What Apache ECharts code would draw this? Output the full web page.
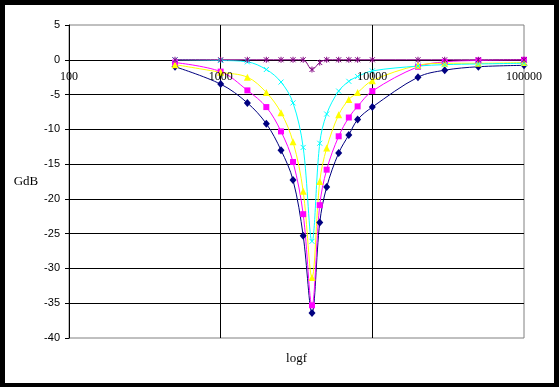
<!DOCTYPE html>
<html><head><meta charset="utf-8">
<script src="https://cdn.jsdelivr.net/npm/echarts@6/dist/echarts.min.js"></script>
<style>html,body{margin:0;padding:0;background:#000}#c{width:559px;height:387px}</style>
</head><body><div id="c"></div>
<script>
// Frequencies (Hz) of the measured points
const freqs = [500, 1000, 1500, 2000, 2500, 3000, 3500, 4000, 4500, 5000, 6000, 7000, 8000, 10000, 20000, 30000, 50000, 100000];
// Gain in dB for each series
const gNavy    = [-1.0, -3.5, -6.2, -9.2, -13.0, -17.3, -25.3, -36.4, -23.4, -18.3, -13.4, -10.8, -8.6, -6.8, -2.5, -1.5, -1.0, -0.8];
const gMagenta = [-0.4, -1.7, -4.4, -6.8, -10.3, -14.7, -22.2, -35.3, -20.9, -15.8, -11.0, -8.3, -6.7, -4.5, -1.0, -0.3, -0.1, 0];
const gYellow  = [-0.7, -1.8, -2.5, -4.7, -7.6, -11.8, -18.9, -31.3, -17.5, -12.7, -7.9, -5.7, -4.7, -3.0, -0.8, -0.5, -0.5, -0.4];
const gCyan    = [0, -0.1, -0.3, -1.4, -3.2, -6.2, -12.6, -26.1, -12.0, -7.8, -4.5, -3.1, -2.4, -1.6, -0.9, -0.7, -0.6, -0.5];
const gPurple  = [0, 0, 0, 0, 0, 0, 0, -1.4, -0.4, 0, 0, 0, 0, 0, 0, 0, 0, 0];

const xMin = 100, xMax = 100000;
const yMin = -40, yMax = 5, yStep = 5;

const W = 559, H = 387;
const G = { left: 69, right: 35, top: 25, bottom: 49 };
// x axis crosses the y axis at 0 dB: shift the label axis up from the plot bottom to the 0 line
const plotH = H - G.top - G.bottom;
const zeroOffset = -plotH * (0 - yMin) / (yMax - yMin);

function pts(vals) { return freqs.map((f, i) => [f, vals[i]]); }

const X_SYM = 'path://M0,0L10,10M10,0L0,10';
const STAR_SYM = 'path://M0,0L10,10M10,0L0,10M5,-1L5,11';

function mkSeries(vals, color, symbol, size, stroke) {
  return {
    type: 'line',
    data: pts(vals),
    smooth: 0.35,
    symbol: symbol,
    symbolSize: size,
    symbolKeepAspect: true,
    showAllSymbol: true,
    lineStyle: { color: color, width: 1 },
    itemStyle: stroke ? { color: 'rgba(0,0,0,0)', borderColor: color, borderWidth: 1 } : { color: color, borderWidth: 0 },
    emphasis: { disabled: true },
    xAxisIndex: 1, yAxisIndex: 0
  };
}

const chart = echarts.init(document.getElementById('c'));
chart.setOption({
  animation: false,
  backgroundColor: '#000',
  graphic: [{ type: 'rect', shape: { x: 5, y: 5, width: 549, height: 378 }, style: { fill: '#fff' }, z: -100, silent: true }],
  grid: { left: G.left, right: G.right, top: G.top, bottom: G.bottom, show: true, borderColor: '#808080', borderWidth: 1, backgroundColor: 'rgba(0,0,0,0)' },
  xAxis: [
    {
      type: 'log', logBase: 10, min: xMin, max: xMax, position: 'bottom', z: 10, offset: zeroOffset,
      axisLine: { show: false, onZero: false },
      axisTick: { show: false },
      axisLabel: { show: true, margin: 11, fontFamily: 'Liberation Serif', fontSize: 12, color: '#000', showMinLabel: true, showMaxLabel: true,
                   formatter: v => String(Math.round(v)) },
      splitLine: { show: false }
    },
    {
      type: 'log', logBase: 10, min: xMin, max: xMax, position: 'bottom',
      axisLine: { show: false, onZero: false },
      axisTick: { show: false },
      axisLabel: { show: false },
      splitLine: { show: true, showMinLine: false, showMaxLine: false, lineStyle: { color: '#000', width: 1 } },
      name: 'logf', nameLocation: 'middle', nameGap: 21,
      nameTextStyle: { fontFamily: 'Liberation Serif', fontSize: 13, color: '#000', verticalAlign: 'middle' }
    }
  ],
  yAxis: {
    type: 'value', min: yMin, max: yMax, interval: yStep,
    axisLine: { show: true, onZero: false, lineStyle: { color: '#000', width: 1 } },
    axisTick: { show: true, length: 4, lineStyle: { color: '#000' } },
    axisLabel: { margin: 9, fontFamily: 'Liberation Sans', fontSize: 11, color: '#000' },
    splitLine: { show: true, showMinLine: false, showMaxLine: false, lineStyle: { color: '#000', width: 1 } },
    name: 'GdB', nameLocation: 'middle', nameGap: 36, nameRotate: 0,
    nameTextStyle: { fontFamily: 'Liberation Serif', fontSize: 13, color: '#000', align: 'center', verticalAlign: 'middle', padding: [4, 0, 0, 0] }
  },
  series: [
    mkSeries(gNavy, '#000080', 'diamond', [7, 8], false),
    mkSeries(gMagenta, '#FF00FF', 'rect', 6, false),
    mkSeries(gYellow, '#FFFF00', 'triangle', 7, false),
    mkSeries(gCyan, '#00FFFF', X_SYM, 5, true),
    mkSeries(gPurple, '#800080', STAR_SYM, 6, true)
  ]
});
</script></body></html>
